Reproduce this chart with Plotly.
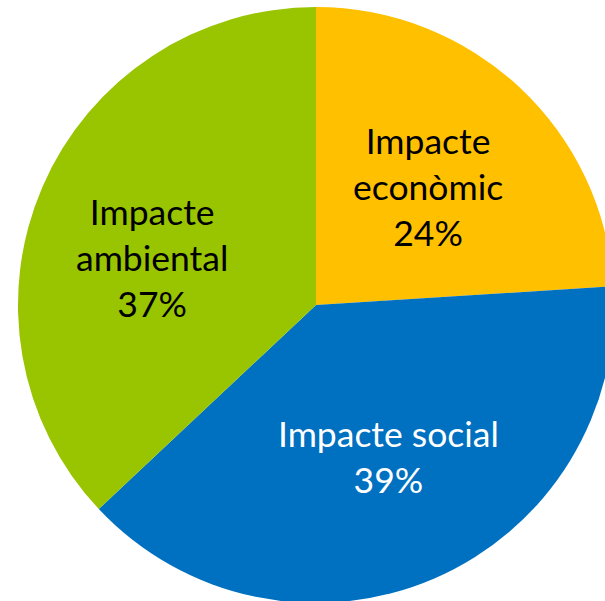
import plotly.graph_objects as go

labels = ["Impacte econòmic", "Impacte social", "Impacte ambiental"]
values = [24, 39, 37]
colors = ["#FFC000", "#0070C0", "#99C400"]
text_labels = ["Impacte<br>econòmic<br>24%", "Impacte social<br>39%", "Impacte<br>ambiental<br>37%"]
text_colors = ["black", "white", "black"]

# figure is slightly larger than the window so the pie can run off the right edge
W, H = 632, 610

fig = go.Figure(go.Pie(
    labels=labels, values=values, sort=False, direction="clockwise", rotation=0,
    marker=dict(colors=colors, line=dict(width=0)),
    textinfo="none", hoverinfo="label+percent", showlegend=False,
    domain=dict(x=[0, 1], y=[7 / H, 603 / H]),
))

# label centres in window pixels
pos = [(428, 186), (389, 456), (152, 257)]
for (px, py), t, c in zip(pos, text_labels, text_colors):
    fig.add_annotation(x=px / W, y=1 - py / H, xref="paper", yref="paper",
                       xanchor="center", yanchor="middle",
                       text=t, showarrow=False, font=dict(family="Lato", size=35.5, color=c),
                       align="center")

fig.update_layout(width=W, height=H, margin=dict(l=0, r=0, t=0, b=0),
                  paper_bgcolor="white")
fig.write_html("out.html", config={"displayModeBar": False},
               post_script="document.body.style.margin='0';"
                           "document.documentElement.style.overflow='hidden';"
                           "document.body.style.overflow='hidden';")
